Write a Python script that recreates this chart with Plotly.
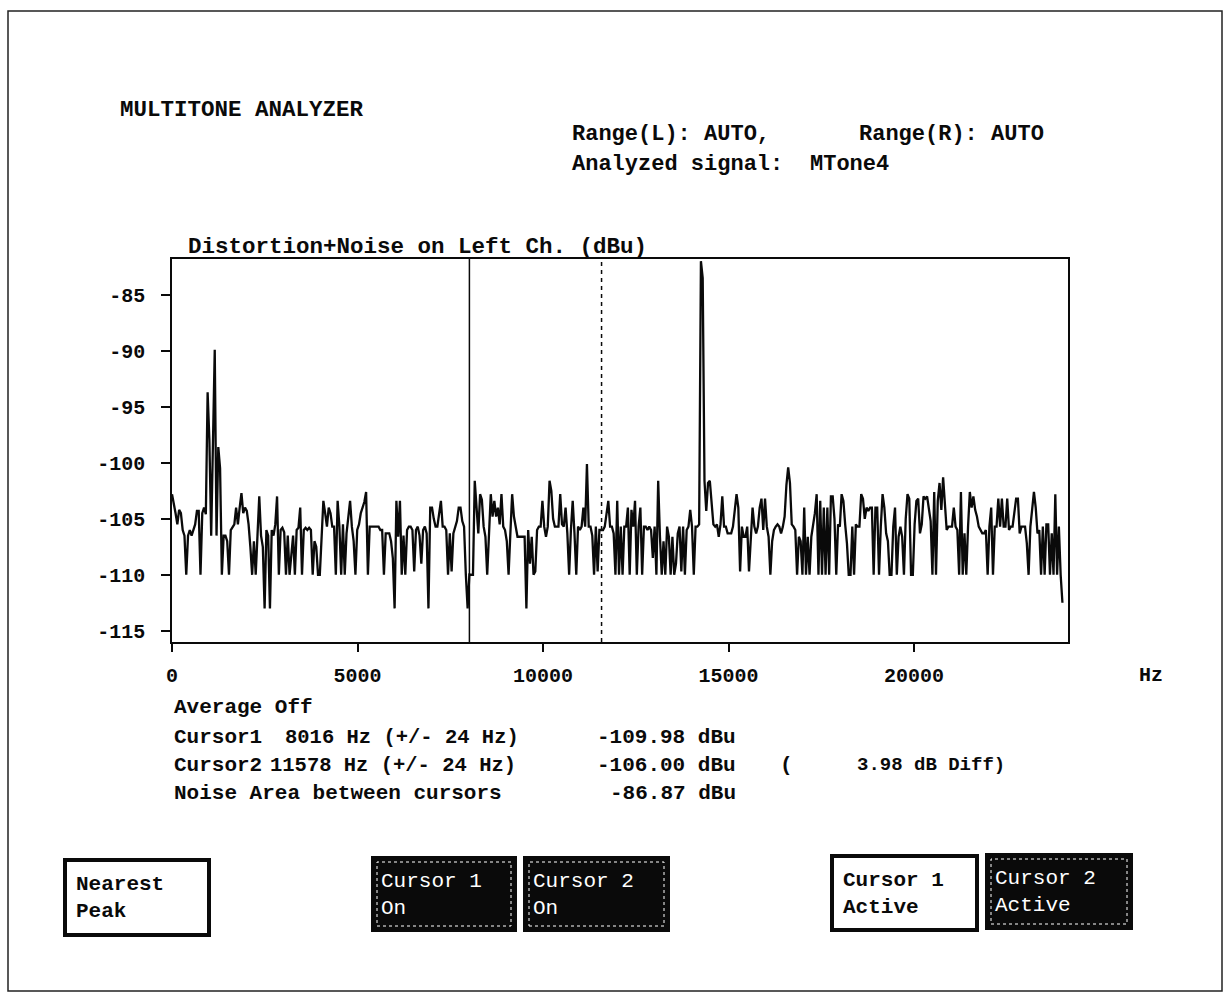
import numpy as np
import plotly.graph_objects as go

# ---- measurement data -------------------------------------------------------
bin_width_hz = 48  # analyzer resolution (+/- 24 Hz)

# Distortion+noise level per 48 Hz bin, left channel (dBu), 0 Hz .. 24000 Hz
level_dbu = [
    -102.8, -103.5, -104.5, -105.5, -104.2, -104.5, -106.0, -106.5, -110.0, -106.5,   # 0 Hz
    -106.0, -106.5, -106.0, -105.5, -104.3, -104.3, -110.0, -104.5, -104.0, -104.6,
    -93.7, -98.0, -106.5, -99.0, -89.9, -106.5, -98.6, -100.5, -110.0, -106.5,
    -106.5, -107.0, -110.0, -106.0, -105.8, -105.5, -104.0, -105.5, -104.0, -102.7,
    -104.5, -104.0, -104.3, -105.5, -107.5, -110.0, -107.0, -110.0, -106.5, -103.0,
    -106.5, -107.5, -113.0, -106.0, -106.5, -113.0, -106.0, -106.5, -105.5, -103.0,
    -110.0, -106.0, -105.8, -106.2, -110.0, -106.5, -110.0, -108.0, -106.5, -110.0,
    -106.0, -105.8, -104.0, -110.0, -106.0, -105.8, -106.0, -105.8, -106.0, -110.0,
    -107.0, -107.5, -110.0, -110.0, -106.0, -103.4, -104.5, -105.7, -104.0, -104.5,
    -105.7, -105.7, -110.0, -103.4, -105.7, -110.0, -105.5, -110.0, -106.3, -105.0,
    -103.4, -105.7, -107.0, -110.0, -106.0, -105.5, -104.5, -104.0, -103.5, -102.6,   # 4800 Hz
    -110.0, -105.7, -105.7, -105.7, -105.7, -105.7, -105.7, -106.0, -106.0, -110.0,
    -106.3, -106.3, -106.3, -107.0, -108.5, -113.0, -103.4, -106.6, -103.4, -110.0,
    -106.5, -110.0, -106.0, -105.7, -105.7, -106.0, -109.7, -106.0, -105.7, -106.5,
    -109.0, -106.0, -105.7, -106.3, -113.0, -104.0, -104.0, -105.0, -105.7, -105.7,
    -104.5, -103.4, -105.7, -105.7, -106.0, -110.0, -106.3, -109.7, -106.3, -105.7,
    -105.2, -104.0, -104.0, -105.2, -105.7, -110.0, -113.0, -109.98, -110.0, -110.0,
    -101.6, -104.0, -106.3, -102.8, -103.3, -105.7, -106.6, -110.0, -105.7, -102.8,
    -104.8, -103.4, -104.8, -104.0, -105.5, -102.8, -105.7, -106.0, -107.0, -110.0,
    -106.3, -102.8, -104.8, -105.7, -106.6, -106.6, -106.6, -106.6, -106.6, -113.0,
    -106.0, -109.0, -106.6, -110.0, -109.7, -106.0, -105.7, -105.7, -103.4, -105.7,   # 9600 Hz
    -106.6, -105.7, -101.6, -102.5, -105.0, -105.7, -105.7, -105.7, -102.8, -105.5,
    -105.7, -104.0, -106.3, -110.0, -106.0, -103.4, -106.3, -110.0, -105.7, -106.0,
    -105.7, -104.0, -105.7, -100.1, -105.7, -105.7, -106.5, -110.0, -105.7, -109.7,
    -106.0, -106.0, -106.0, -105.7, -104.5, -103.4, -105.7, -105.7, -106.3, -110.0,
    -103.4, -110.0, -105.7, -110.0, -105.7, -105.7, -104.0, -110.0, -104.2, -105.7,
    -103.4, -110.0, -105.7, -104.0, -110.0, -105.7, -105.7, -106.0, -105.7, -106.0,
    -108.5, -105.7, -110.0, -101.6, -106.6, -110.0, -107.0, -110.0, -105.7, -106.6,
    -110.0, -106.6, -110.0, -109.0, -106.3, -105.7, -109.7, -105.7, -110.0, -106.0,
    -105.7, -104.2, -105.7, -110.0, -105.7, -105.7, -105.5, -82.0, -83.5, -101.6,
    -104.3, -101.8, -101.6, -104.0, -105.5, -105.7, -105.5, -106.6, -105.5, -103.0,   # 14400 Hz
    -105.7, -105.7, -106.3, -106.3, -106.3, -105.7, -104.0, -102.8, -104.0, -109.7,
    -105.7, -106.6, -106.6, -105.7, -109.7, -106.3, -104.0, -105.7, -106.3, -105.7,
    -104.0, -103.2, -106.0, -103.2, -105.7, -106.6, -110.0, -107.0, -106.0, -105.7,
    -105.5, -105.7, -106.3, -105.7, -104.8, -102.0, -100.4, -101.8, -105.5, -105.7,
    -106.0, -110.0, -106.6, -107.0, -110.0, -104.0, -110.0, -106.6, -110.0, -106.6,
    -105.7, -104.5, -102.8, -110.0, -103.4, -110.0, -104.0, -110.0, -104.0, -110.0,
    -103.0, -103.0, -105.0, -110.0, -105.5, -105.7, -102.8, -103.4, -105.5, -107.2,
    -110.0, -110.0, -105.7, -110.0, -105.5, -105.7, -105.7, -102.8, -103.2, -105.0,
    -104.0, -104.3, -104.0, -104.0, -110.0, -104.0, -104.0, -110.0, -105.7, -102.8,
    -104.0, -106.3, -107.0, -110.0, -110.0, -105.7, -104.0, -110.0, -106.6, -105.7,   # 19200 Hz
    -106.6, -110.0, -105.0, -102.8, -103.2, -110.0, -110.0, -105.5, -103.4, -103.2,
    -106.3, -105.5, -103.0, -103.2, -103.0, -104.0, -105.2, -110.0, -102.6, -110.0,
    -103.4, -101.8, -104.2, -101.3, -104.2, -106.0, -105.7, -105.7, -105.7, -104.0,
    -105.7, -106.0, -110.0, -102.6, -110.0, -106.3, -110.0, -105.7, -102.6, -104.0,
    -103.0, -104.2, -104.8, -105.7, -106.0, -106.3, -106.3, -106.0, -110.0, -105.7,
    -104.0, -110.0, -105.7, -105.7, -103.2, -105.7, -103.2, -105.7, -105.7, -103.2,
    -106.0, -105.7, -105.7, -104.5, -103.2, -103.2, -106.3, -105.7, -105.7, -105.7,
    -107.2, -110.0, -105.7, -104.0, -102.6, -104.0, -106.3, -106.0, -110.0, -105.7,
    -110.0, -105.5, -105.5, -110.0, -106.3, -110.0, -102.8, -110.0, -105.7, -110.0,
    -112.5,                                                                             # 24000 Hz
]

cursor_freqs_hz = [8016, 11578]
noise_area_dbu = -86.87

x_tick_values = [0, 5000, 10000, 15000, 20000]
x_tick_labels = ["0", "5000", "10000", "15000", "20000"]
y_tick_values = [-85, -90, -95, -100, -105, -110, -115]
y_tick_labels = ["-85", "-90", "-95", "-100", "-105", "-110", "-115"]

freq_hz = np.arange(len(level_dbu)) * bin_width_hz
levels = np.array(level_dbu)
cursor_levels = [float(np.interp(f, freq_hz, levels)) for f in cursor_freqs_hz]
cursor_diff = abs(cursor_levels[1] - cursor_levels[0])

# ---- page geometry (pixels) ---------------------------------------------------
W, H = 1229, 994
L, R, T, B = 172, 1068, 259, 642
PW, PH = R - L, B - T

MONO = "Liberation Mono"
INK = "#0a0a0a"


def px_x(px):
    return (px - L) / PW


def px_y(py):
    return 1 - (py - T) / PH


fig = go.Figure()

fig.add_trace(go.Scatter(
    x=freq_hz, y=levels, mode="lines",
    line=dict(color=INK, width=2.3),
    hoverinfo="x+y", showlegend=False,
))

# cursor markers
fig.add_shape(type="line", xref="x", yref="paper",
              x0=cursor_freqs_hz[0], x1=cursor_freqs_hz[0], y0=0, y1=1,
              line=dict(color=INK, width=1.5))
fig.add_shape(type="line", xref="x", yref="paper",
              x0=cursor_freqs_hz[1], x1=cursor_freqs_hz[1], y0=0, y1=1,
              line=dict(color=INK, width=1.5, dash="4px,4px"))

annotations = []


def text(s, x, y, size=21, bold=True, color=INK, anchor="left"):
    annotations.append(dict(
        text=s, xref="paper", yref="paper", x=px_x(x), y=px_y(y),
        xanchor=anchor, yanchor="middle", showarrow=False,
        font=dict(family=MONO, size=size, color=color,
                  weight="bold" if bold else "normal"),
    ))


# header
text("MULTITONE ANALYZER", 118, 110, size=22.5)
text("Range(L): AUTO,", 570, 135, size=22)
text("Range(R): AUTO", 857, 135, size=22)
text("Analyzed signal:", 570, 164, size=22)
text("MTone4", 808, 164, size=22)
text("Distortion+Noise on Left Ch. (dBu)", 186, 247, size=22.5)

# axis unit
text("Hz", 1137, 675, size=20)

# readout
text("Average Off", 172, 707)
text("Cursor1", 172, 737)
text(f"{cursor_freqs_hz[0]} Hz (+/- {bin_width_hz // 2} Hz)", 283, 737, size=20.5)
text(f"{cursor_levels[0]:.2f} dBu", 595, 737)
text("Cursor2", 172, 765)
text(f"{cursor_freqs_hz[1]} Hz (+/- {bin_width_hz // 2} Hz)", 268, 765, size=20.5)
text(f"{cursor_levels[1]:.2f} dBu", 595, 765)
text("(", 778, 765)
text(f"{cursor_diff:.2f} dB Diff)", 855, 765, size=19)
text("Noise Area between cursors", 172, 793)
text(f"{noise_area_dbu:.2f} dBu", 608, 793)

shapes = []

# soft-key buttons: (lines, left, top, right, bottom, inverted)
buttons = [
    (["Nearest", "Peak"], 65, 860, 209, 935, False),
    (["Cursor 1", "On"], 373, 858, 515, 930, True),
    (["Cursor 2", "On"], 525, 858, 668, 930, True),
    (["Cursor 1", "Active"], 832, 856, 977, 930, False),
    (["Cursor 2", "Active"], 987, 855, 1131, 928, True),
]
for lines, x0, y0, x1, y1, inverted in buttons:
    shapes.append(dict(type="rect", xref="paper", yref="paper",
                       x0=px_x(x0), x1=px_x(x1), y0=px_y(y1), y1=px_y(y0),
                       line=dict(color=INK, width=4),
                       fillcolor=INK if inverted else "white", layer="above"))
    if inverted:
        shapes.append(dict(type="rect", xref="paper", yref="paper",
                           x0=px_x(x0 + 4), x1=px_x(x1 - 4), y0=px_y(y1 - 4), y1=px_y(y0 + 4),
                           line=dict(color="white", width=1, dash="dot"),
                           fillcolor="rgba(0,0,0,0)", layer="above"))
    mid = (y0 + y1) / 2
    left = x0 + (6 if inverted else 9)
    colour = "white" if inverted else INK
    text(lines[0], left, mid - 13, size=21, bold=not inverted, color=colour)
    text(lines[1], left, mid + 14, size=21, bold=not inverted, color=colour)

# page frame
shapes.append(dict(type="rect", xref="paper", yref="paper",
                   x0=px_x(8), x1=px_x(1222), y0=px_y(991), y1=px_y(11),
                   line=dict(color="#222222", width=1.5), fillcolor="rgba(0,0,0,0)",
                   layer="below"))

for s in shapes:
    fig.add_shape(**s)

fig.update_layout(
    width=W, height=H, autosize=False,
    margin=dict(l=L, r=W - R, t=T, b=H - B, pad=0),
    paper_bgcolor="white", plot_bgcolor="white",
    showlegend=False,
    annotations=annotations,
    font=dict(family=MONO, size=20, color=INK),
)

fig.update_xaxes(
    range=[0, 24150], tickvals=x_tick_values, ticktext=x_tick_labels,
    showgrid=False, zeroline=False,
    showline=True, mirror=True, linecolor=INK, linewidth=1.5,
    ticks="outside", ticklen=8, tickwidth=1.5, tickcolor=INK,
    tickfont=dict(family=MONO, size=20, color=INK, weight="bold"),
    ticklabelstandoff=6,
)
fig.update_yaxes(
    range=[-116, -81.8], tickvals=y_tick_values, ticktext=y_tick_labels,
    showgrid=False, zeroline=False,
    showline=True, mirror=True, linecolor=INK, linewidth=1.5,
    ticks="outside", ticklen=9, tickwidth=1.5, tickcolor=INK,
    tickfont=dict(family=MONO, size=20, color=INK, weight="bold"),
    ticklabelstandoff=12,
)

fig.write_html("out.html")
